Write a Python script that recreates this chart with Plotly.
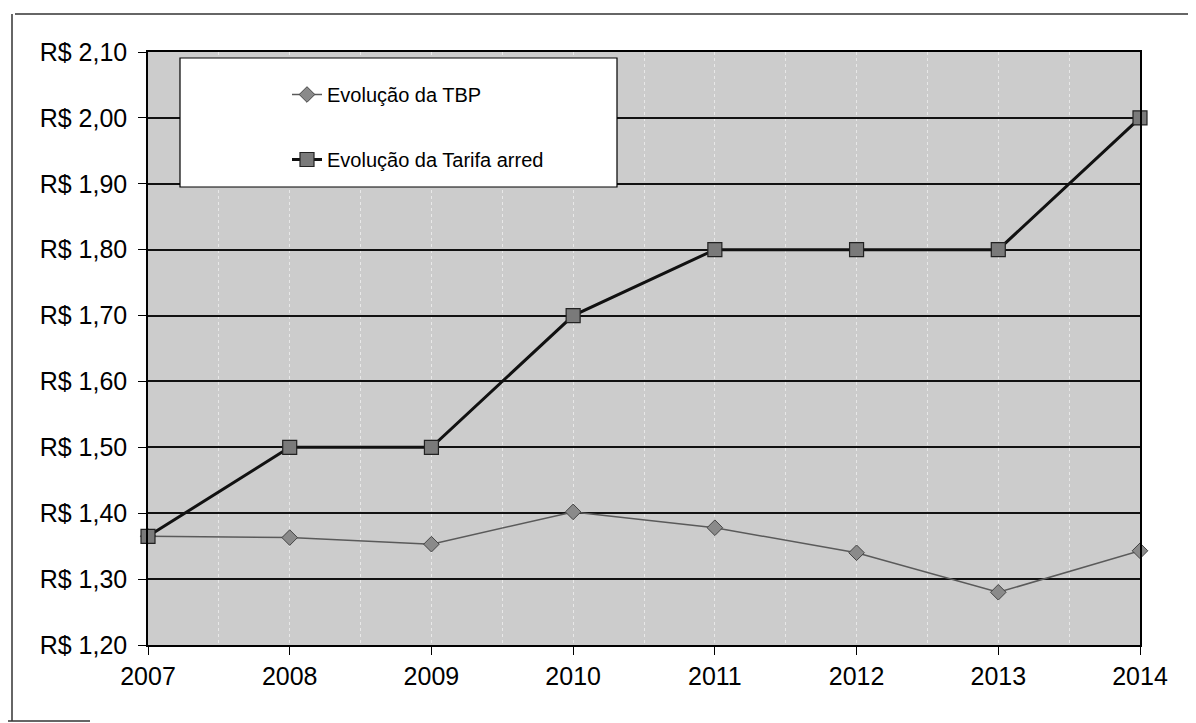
import plotly.graph_objects as go

years = [2007, 2008, 2009, 2010, 2011, 2012, 2013, 2014]
tbp = [1.365, 1.363, 1.353, 1.402, 1.378, 1.340, 1.280, 1.343]
tarifa = [1.365, 1.50, 1.50, 1.70, 1.80, 1.80, 1.80, 2.00]
y_ticks = [1.20, 1.30, 1.40, 1.50, 1.60, 1.70, 1.80, 1.90, 2.00, 2.10]
y_tick_labels = ["R$ 1,20", "R$ 1,30", "R$ 1,40", "R$ 1,50", "R$ 1,60",
                 "R$ 1,70", "R$ 1,80", "R$ 1,90", "R$ 2,00", "R$ 2,10"]
name_tbp = "Evolução da TBP"
name_tarifa = "Evolução da Tarifa arred"

OFF = 8  # page body margin
W, H = 1196 - OFF, 723 - OFF
L, R, T, B = 148, 1140, 52, 645  # screen coordinates of the plot area
pw, ph = R - L, B - T


def px(x):
    return (x - L) / pw


def py(y):
    return (B - y) / ph


fig = go.Figure()
fig.add_trace(go.Scatter(
    x=years, y=tbp, name=name_tbp, mode="lines+markers",
    line=dict(color="#5a5a5a", width=1.5),
    marker=dict(symbol="diamond", size=12, color="#8a8a8a",
                line=dict(color="#444444", width=1)),
    legendgroup="a", cliponaxis=False,
))
fig.add_trace(go.Scatter(
    x=years, y=tarifa, name=name_tarifa, mode="lines+markers",
    line=dict(color="#111111", width=3),
    marker=dict(symbol="square", size=14, color="#7a7a7a",
                line=dict(color="#222222", width=1.2)),
    legendgroup="b", cliponaxis=False,
))

shapes = [
    # legend box
    dict(type="rect", xref="paper", yref="paper",
         x0=px(180), x1=px(617), y0=py(187), y1=py(58),
         fillcolor="white", line=dict(color="black", width=1.2), layer="above"),
    # outer frame (scanned page border)
    dict(type="line", xref="paper", yref="paper",
         x0=px(15), x1=px(1196), y0=py(14), y1=py(14),
         line=dict(color="#333333", width=1.5)),
    dict(type="line", xref="paper", yref="paper",
         x0=px(12), x1=px(12), y0=py(14), y1=py(721),
         line=dict(color="#333333", width=1.5)),
    dict(type="line", xref="paper", yref="paper",
         x0=px(8), x1=px(90), y0=py(721), y1=py(721),
         line=dict(color="#333333", width=1.5)),
]

fig.update_layout(
    width=W, height=H,
    margin=dict(l=L - OFF, r=1196 - R, t=T - OFF, b=723 - B),
    paper_bgcolor="white",
    plot_bgcolor="#cccccc",
    font=dict(family="Liberation Sans, Arial, sans-serif", color="black"),
    showlegend=True,
    legend=dict(
        x=px(287), y=py(75), xanchor="left", yanchor="top",
        bgcolor="rgba(0,0,0,0)", borderwidth=0,
        font=dict(size=20, color="black"),
        tracegroupgap=36, traceorder="grouped",
    ),
    shapes=shapes,
)

fig.update_xaxes(
    range=[2007, 2014], tickmode="array", tickvals=years,
    ticktext=[str(y) for y in years],
    showline=True, linecolor="black", linewidth=1.5, mirror=True,
    ticks="outside", ticklen=8, tickcolor="black", tickwidth=1.2,
    showgrid=False,
    minor=dict(dtick=0.5, showgrid=True, gridcolor="rgba(255,255,255,0.55)",
               griddash="dot", gridwidth=1, ticks=""),
    tickfont=dict(size=25),
    zeroline=False,
)
fig.update_yaxes(
    range=[1.20, 2.10], tickmode="array", tickvals=y_ticks, ticktext=y_tick_labels,
    showline=True, linecolor="black", linewidth=1.5, mirror=True,
    ticks="outside", ticklen=8, tickcolor="black", tickwidth=1.2,
    showgrid=True, gridcolor="#111111", gridwidth=1.5,
    tickfont=dict(size=25),
    ticklabelstandoff=6,
    zeroline=False,
)

fig.write_html("out.html")
